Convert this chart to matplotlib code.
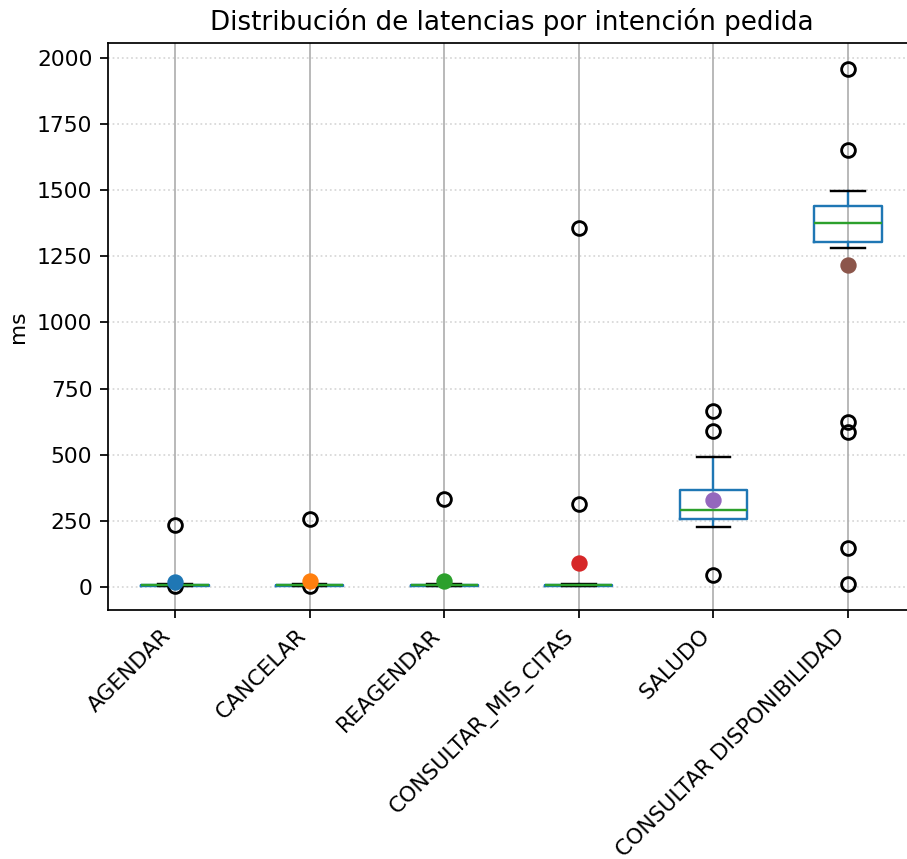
import matplotlib
matplotlib.use("Agg")
import matplotlib.pyplot as plt

# Latency summary per requested intent (ms)
intents = ["AGENDAR", "CANCELAR", "REAGENDAR", "CONSULTAR_MIS_CITAS",
           "SALUDO", "CONSULTAR DISPONIBILIDAD"]
q1 = [5, 5, 5, 5, 256, 1303]
median = [7, 7, 7, 7, 291, 1376]
q3 = [9, 9, 9, 9, 366, 1439]
whisker_low = [5, 5, 5, 5, 227, 1283]
whisker_high = [12, 11, 12, 11, 493, 1497]
outliers = [
    [234, 2],
    [256, 2],
    [333],
    [1357, 314],
    [667, 590, 45],
    [1957, 1651, 624, 586, 147, 11],
]
means = [19, 23, 24, 92, 329, 1217]

stats = []
for i, name in enumerate(intents):
    stats.append(dict(label=name, q1=q1[i], med=median[i], q3=q3[i],
                      whislo=whisker_low[i], whishi=whisker_high[i],
                      fliers=outliers[i], mean=means[i]))

DPI = 157
fig = plt.figure(figsize=(908 / DPI, 859 / DPI), dpi=DPI)
ax = fig.add_axes([0.1186, 0.29, 0.8895, 0.66])

positions = list(range(1, len(intents) + 1))
ax.bxp(stats, positions=positions, widths=0.5, showfliers=True,
       boxprops=dict(color="C0", linewidth=1.1),
       whiskerprops=dict(color="C0", linewidth=1.1),
       medianprops=dict(color="C2", linewidth=1.1),
       capprops=dict(color="k", linewidth=1.1),
       flierprops=dict(marker="o", markerfacecolor="none",
                       markeredgecolor="k", markersize=6.3,
                       markeredgewidth=1.3))

for i, (p, m) in enumerate(zip(positions, means)):
    ax.plot([p], [m], marker="o", linestyle="none", color=f"C{i}",
            markersize=6.5, zorder=4)

ax.set_xticks(positions)
ax.set_xticklabels(intents, rotation=45, ha="right")
ax.xaxis.grid(True, color="#b0b0b0", linewidth=0.8)
ax.yaxis.grid(True, linestyle=":", alpha=0.5)
ax.set_axisbelow(True)
ax.set_ylim(-87, 2057)
ax.set_xlim(0.5, 6.5)
ax.set_ylabel("ms")
ax.set_title("Distribución de latencias por intención pedida", fontsize=12)

fig.savefig("out.png", dpi=DPI)
